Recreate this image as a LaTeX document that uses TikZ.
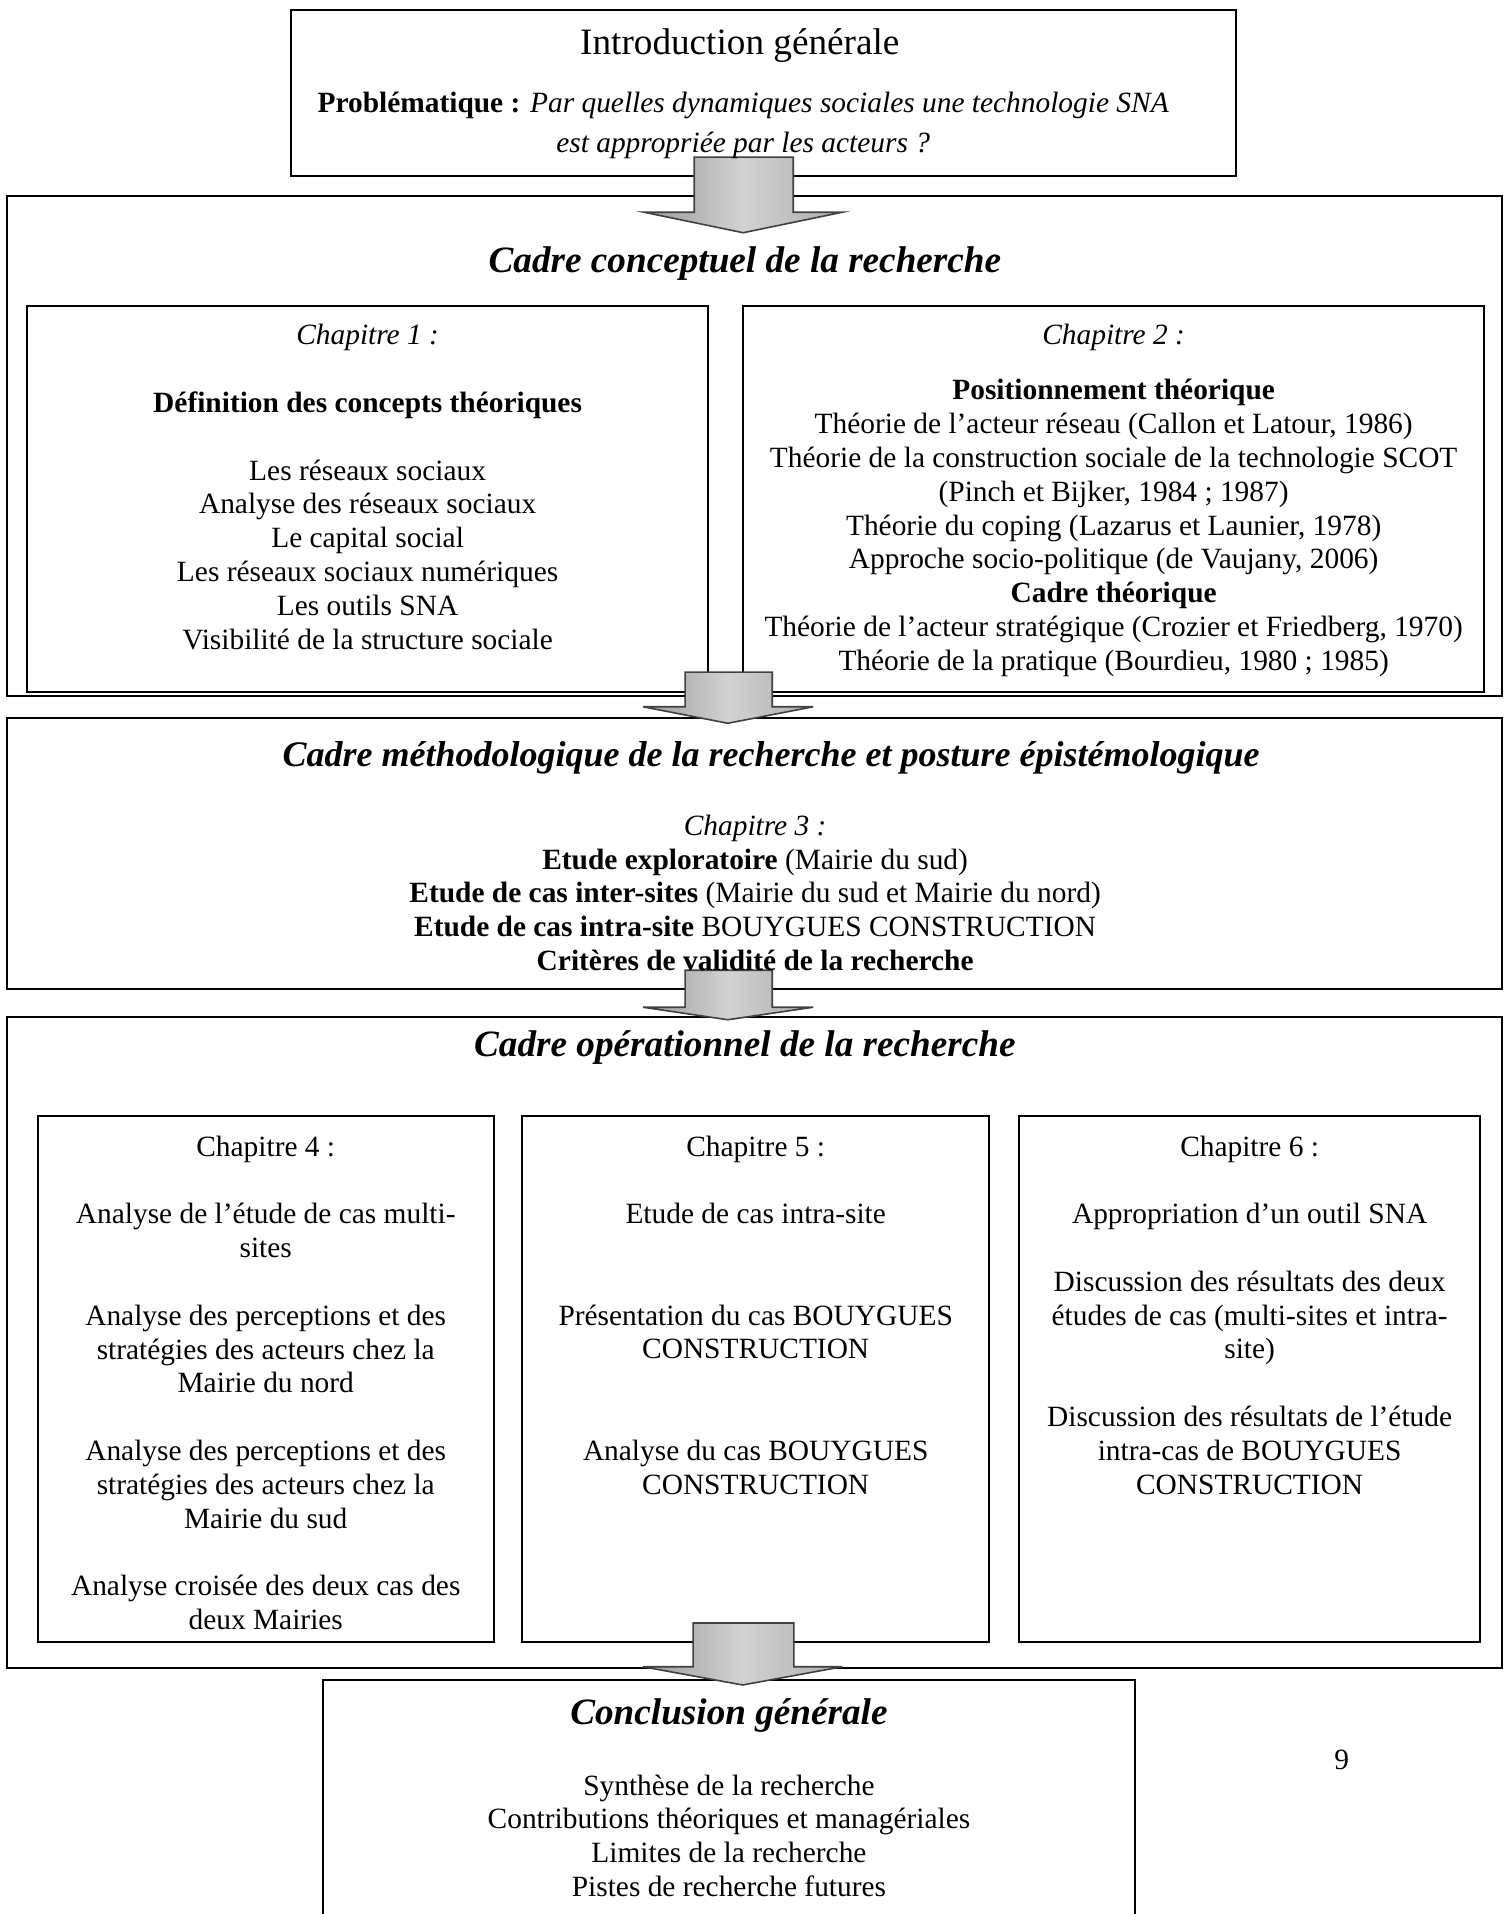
\documentclass[tikz,border=0pt]{standalone}
\usepackage{fontspec}
\setmainfont{Liberation Serif}
\usepackage{tikz}

\newcommand{\bodyfont}{\fontsize{14.7}{16.9}\selectfont}
\newcommand{\titlefont}{\fontsize{18.6}{22}\selectfont}

\begin{document}
\begin{tikzpicture}[
    box/.style={draw, line width=1.1pt, inner sep=0pt},
    txt/.style={align=center, inner sep=0pt, font=\bodyfont},
    ttl/.style={inner sep=0pt, font=\titlefont\bfseries\itshape},
    blockarrow/.style={draw=gray!50!black, line width=0.8pt, left color=gray!80, right color=gray!65, middle color=gray!35}]

    \useasboundingbox (0,0) rectangle (26.43,-33.635);
    \clip (0,0) rectangle (26.43,-33.635);

    % frames
    \node[box, minimum width=16.61cm, minimum height=2.92cm] (intro) at (13.42,-1.63) {};
    \node[box, minimum width=26.27cm, minimum height=8.79cm] (concept) at (13.26,-7.84) {};
    \node[box, minimum width=11.97cm, minimum height=6.78cm] (chone) at (6.46,-8.77) {};
    \node[box, minimum width=13.02cm, minimum height=6.78cm] (chtwo) at (19.57,-8.77) {};
    \node[box, minimum width=26.27cm, minimum height=4.76cm] (method) at (13.26,-15.00) {};
    \node[box, minimum width=26.27cm, minimum height=11.44cm] (oper) at (13.26,-23.59) {};
    \node[box, minimum width=8.01cm, minimum height=9.24cm] (chfour) at (4.67,-24.23) {};
    \node[box, minimum width=8.21cm, minimum height=9.24cm] (chfive) at (13.28,-24.23) {};
    \node[box, minimum width=8.10cm, minimum height=9.24cm] (chsix) at (21.96,-24.23) {};
    \node[box, minimum width=14.27cm, minimum height=4.46cm] (concl) at (12.81,-31.75) {};

    % arrows
    \draw[blockarrow] (12.20,-2.76) -- (13.94,-2.76) -- (13.94,-3.73) -- (14.80,-3.73) -- (13.06,-4.09) -- (11.32,-3.73) -- (12.20,-3.73) -- cycle;
    \draw[blockarrow] (12.04,-11.81) -- (13.57,-11.81) -- (13.57,-12.42) -- (14.29,-12.42) -- (12.79,-12.71) -- (11.30,-12.42) -- (12.04,-12.42) -- cycle;
    \draw[blockarrow] (12.04,-17.05) -- (13.57,-17.05) -- (13.57,-17.70) -- (14.29,-17.70) -- (12.79,-17.92) -- (11.30,-17.70) -- (12.04,-17.70) -- cycle;
    \draw[blockarrow] (12.18,-28.52) -- (13.95,-28.52) -- (13.95,-29.29) -- (14.80,-29.29) -- (13.05,-29.61) -- (11.30,-29.29) -- (12.18,-29.29) -- cycle;

    % texts
    \node[inner sep=0pt, font=\titlefont] (introtitle) at (13.00,-0.80) {Introduction générale};
    \node[txt, font=\fontsize{14.7}{20}\selectfont] (problem) at (13.06,-2.21) {\textbf{Problématique :} \textit{Par quelles dynamiques sociales une technologie SNA}\\ \textit{est appropriée par les acteurs ?}};

    \node[ttl] (concepttitle) at (13.09,-4.64) {Cadre conceptuel de la recherche};
    \node[txt] (chonetext) at (6.46,-8.56) {\textit{Chapitre 1 :}\\[16.9pt]
        \textbf{Définition des concepts théoriques}\\[16.9pt]
        Les réseaux sociaux\\ Analyse des réseaux sociaux\\ Le capital social\\
        Les réseaux sociaux numériques\\ Les outils SNA\\ Visibilité de la structure sociale};
    \node[txt] (chtwotext) at (19.57,-8.79) {\textit{Chapitre 2 :}\\[11pt]
        \textbf{Positionnement théorique}\\
        Théorie de l’acteur réseau (Callon et Latour, 1986)\\
        Théorie de la construction sociale de la technologie SCOT\\
        (Pinch et Bijker, 1984 ; 1987)\\
        Théorie du coping (Lazarus et Launier, 1978)\\
        Approche socio-politique (de Vaujany, 2006)\\
        \textbf{Cadre théorique}\\
        Théorie de l’acteur stratégique (Crozier et Friedberg, 1970)\\
        Théorie de la pratique (Bourdieu, 1980 ; 1985)};

    \node[ttl, font=\fontsize{18}{22}\selectfont\bfseries\itshape] (methodtitle) at (13.55,-13.31) {Cadre méthodologique de la recherche et posture épistémologique};
    \node[txt] (methodtext) at (13.27,-15.69) {\textit{Chapitre 3 :}\\
        \textbf{Etude exploratoire} (Mairie du sud)\\
        \textbf{Etude de cas inter-sites} (Mairie du sud et Mairie du nord)\\
        \textbf{Etude de cas intra-site} BOUYGUES CONSTRUCTION\\
        \textbf{Critères de validité de la recherche}};

    \node[ttl] (opertitle) at (13.09,-18.41) {Cadre opérationnel de la recherche};
    \node[txt] (chfourtext) at (4.67,-24.30) {Chapitre 4 :\\[16.9pt]
        Analyse de l’étude de cas multi-\\ sites\\[16.9pt]
        Analyse des perceptions et des\\ stratégies des acteurs chez la\\ Mairie du nord\\[16.9pt]
        Analyse des perceptions et des\\ stratégies des acteurs chez la\\ Mairie du sud\\[16.9pt]
        Analyse croisée des deux cas des\\ deux Mairies};
    \node[txt] (chfivetext) at (13.28,-23.11) {Chapitre 5 :\\[16.9pt]
        Etude de cas intra-site\\[33.8pt]
        Présentation du cas BOUYGUES\\ CONSTRUCTION\\[33.8pt]
        Analyse du cas BOUYGUES\\ CONSTRUCTION};
    \node[txt] (chsixtext) at (21.96,-23.11) {Chapitre 6 :\\[16.9pt]
        Appropriation d’un outil SNA\\[16.9pt]
        Discussion des résultats des deux\\ études de cas (multi-sites et intra-\\ site)\\[16.9pt]
        Discussion des résultats de l’étude\\ intra-cas de BOUYGUES\\ CONSTRUCTION};

    \node[ttl] (concltitle) at (12.81,-30.15) {Conclusion générale};
    \node[txt] (concltext) at (12.81,-32.26) {Synthèse de la recherche\\
        Contributions théoriques et managériales\\ Limites de la recherche\\
        Pistes de recherche futures};
    \node[inner sep=0pt, font=\bodyfont] (pagenum) at (23.58,-30.93) {9};
\end{tikzpicture}
\end{document}
